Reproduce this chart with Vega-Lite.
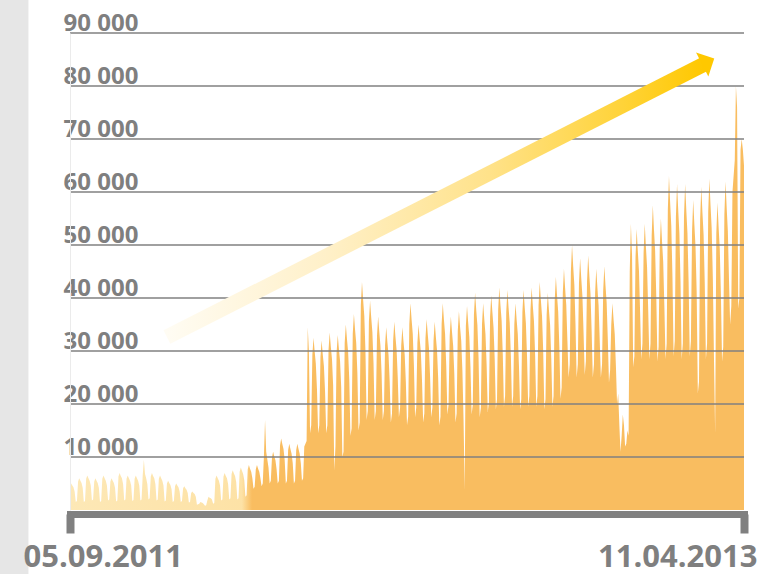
{
"$schema":"https://vega.github.io/schema/vega-lite/v6.json",
"width":674,"height":477,
"autosize":{"type":"none"},
"padding":{"left":70,"top":33,"right":22,"bottom":64},
"background":"white",
"config":{"view":{"stroke":null},"font":"Open Sans"},
"datasets":{
"t":[
{"d":"2011-09-05","v":4500},{"d":"2011-09-06","v":5000},{"d":"2011-09-07","v":4600},{"d":"2011-09-08","v":4300},{"d":"2011-09-09","v":3500},{"d":"2011-09-10","v":1500},{"d":"2011-09-11","v":1700},
{"d":"2011-09-12","v":5400},{"d":"2011-09-13","v":6000},{"d":"2011-09-14","v":5500},{"d":"2011-09-15","v":5100},{"d":"2011-09-16","v":4200},{"d":"2011-09-17","v":1500},{"d":"2011-09-18","v":1700},
{"d":"2011-09-19","v":5900},{"d":"2011-09-20","v":6500},{"d":"2011-09-21","v":6000},{"d":"2011-09-22","v":5500},{"d":"2011-09-23","v":4600},{"d":"2011-09-24","v":1800},{"d":"2011-09-25","v":2000},
{"d":"2011-09-26","v":5400},{"d":"2011-09-27","v":6000},{"d":"2011-09-28","v":5500},{"d":"2011-09-29","v":5100},{"d":"2011-09-30","v":4200},{"d":"2011-10-01","v":1500},{"d":"2011-10-02","v":1700},
{"d":"2011-10-03","v":5900},{"d":"2011-10-04","v":6500},{"d":"2011-10-05","v":6000},{"d":"2011-10-06","v":5500},{"d":"2011-10-07","v":4600},{"d":"2011-10-08","v":1800},{"d":"2011-10-09","v":2000},
{"d":"2011-10-10","v":5400},{"d":"2011-10-11","v":6000},{"d":"2011-10-12","v":5500},{"d":"2011-10-13","v":5100},{"d":"2011-10-14","v":4200},{"d":"2011-10-15","v":1600},{"d":"2011-10-16","v":1800},
{"d":"2011-10-17","v":6300},{"d":"2011-10-18","v":7000},{"d":"2011-10-19","v":6400},{"d":"2011-10-20","v":6000},{"d":"2011-10-21","v":4900},{"d":"2011-10-22","v":1800},{"d":"2011-10-23","v":2000},
{"d":"2011-10-24","v":5900},{"d":"2011-10-25","v":6500},{"d":"2011-10-26","v":6000},{"d":"2011-10-27","v":5500},{"d":"2011-10-28","v":4600},{"d":"2011-10-29","v":1700},{"d":"2011-10-30","v":1900},
{"d":"2011-10-31","v":5900},{"d":"2011-11-01","v":6500},{"d":"2011-11-02","v":6000},{"d":"2011-11-03","v":5500},{"d":"2011-11-04","v":4600},{"d":"2011-11-05","v":1800},{"d":"2011-11-06","v":2000},
{"d":"2011-11-07","v":6500},{"d":"2011-11-08","v":9500},{"d":"2011-11-09","v":6800},{"d":"2011-11-10","v":6000},{"d":"2011-11-11","v":4900},{"d":"2011-11-12","v":2000},{"d":"2011-11-13","v":2200},
{"d":"2011-11-14","v":6300},{"d":"2011-11-15","v":7000},{"d":"2011-11-16","v":6400},{"d":"2011-11-17","v":6000},{"d":"2011-11-18","v":4900},{"d":"2011-11-19","v":1800},{"d":"2011-11-20","v":2000},
{"d":"2011-11-21","v":5900},{"d":"2011-11-22","v":6500},{"d":"2011-11-23","v":6000},{"d":"2011-11-24","v":5500},{"d":"2011-11-25","v":4600},{"d":"2011-11-26","v":1600},{"d":"2011-11-27","v":1800},
{"d":"2011-11-28","v":5000},{"d":"2011-11-29","v":5500},{"d":"2011-11-30","v":5100},{"d":"2011-12-01","v":4700},{"d":"2011-12-02","v":3900},{"d":"2011-12-03","v":1500},{"d":"2011-12-04","v":1700},
{"d":"2011-12-05","v":4500},{"d":"2011-12-06","v":5000},{"d":"2011-12-07","v":4600},{"d":"2011-12-08","v":4300},{"d":"2011-12-09","v":3500},{"d":"2011-12-10","v":1500},{"d":"2011-12-11","v":1700},
{"d":"2011-12-12","v":4100},{"d":"2011-12-13","v":4500},{"d":"2011-12-14","v":4100},{"d":"2011-12-15","v":3800},{"d":"2011-12-16","v":3200},{"d":"2011-12-17","v":1400},{"d":"2011-12-18","v":1500},
{"d":"2011-12-19","v":3200},{"d":"2011-12-20","v":3500},{"d":"2011-12-21","v":3200},{"d":"2011-12-22","v":3000},{"d":"2011-12-23","v":2500},{"d":"2011-12-24","v":1000},{"d":"2011-12-25","v":1100},
{"d":"2011-12-26","v":1200},{"d":"2011-12-27","v":1500},{"d":"2011-12-28","v":1400},{"d":"2011-12-29","v":1300},{"d":"2011-12-30","v":1100},{"d":"2011-12-31","v":800},{"d":"2012-01-01","v":900},
{"d":"2012-01-02","v":1800},{"d":"2012-01-03","v":2500},{"d":"2012-01-04","v":2300},{"d":"2012-01-05","v":2200},{"d":"2012-01-06","v":2000},{"d":"2012-01-07","v":1200},{"d":"2012-01-08","v":1300},
{"d":"2012-01-09","v":5900},{"d":"2012-01-10","v":6500},{"d":"2012-01-11","v":6000},{"d":"2012-01-12","v":5500},{"d":"2012-01-13","v":4600},{"d":"2012-01-14","v":1800},{"d":"2012-01-15","v":2000},
{"d":"2012-01-16","v":6300},{"d":"2012-01-17","v":7000},{"d":"2012-01-18","v":6400},{"d":"2012-01-19","v":6000},{"d":"2012-01-20","v":4900},{"d":"2012-01-21","v":2000},{"d":"2012-01-22","v":2200},
{"d":"2012-01-23","v":6800},{"d":"2012-01-24","v":7500},{"d":"2012-01-25","v":6900},{"d":"2012-01-26","v":6400},{"d":"2012-01-27","v":5300},{"d":"2012-01-28","v":2000},{"d":"2012-01-29","v":2200},
{"d":"2012-01-30","v":7200},{"d":"2012-01-31","v":8000},{"d":"2012-02-01","v":7400},{"d":"2012-02-02","v":6800},{"d":"2012-02-03","v":5600},{"d":"2012-02-04","v":2500},{"d":"2012-02-05","v":2800},
{"d":"2012-02-06","v":7700},{"d":"2012-02-07","v":8500},{"d":"2012-02-08","v":7800},{"d":"2012-02-09","v":7200},{"d":"2012-02-10","v":6000},{"d":"2012-02-11","v":4000},{"d":"2012-02-12","v":4400},
{"d":"2012-02-13","v":7700},{"d":"2012-02-14","v":8500},{"d":"2012-02-15","v":7800},{"d":"2012-02-16","v":7200},{"d":"2012-02-17","v":6000},{"d":"2012-02-18","v":4500},{"d":"2012-02-19","v":5000},
{"d":"2012-02-20","v":10000},{"d":"2012-02-21","v":17000},{"d":"2012-02-22","v":11000},{"d":"2012-02-23","v":9500},{"d":"2012-02-24","v":8000},{"d":"2012-02-25","v":5000},{"d":"2012-02-26","v":5500},
{"d":"2012-02-27","v":9900},{"d":"2012-02-28","v":11000},{"d":"2012-02-29","v":10100},{"d":"2012-03-01","v":9400},{"d":"2012-03-02","v":7700},{"d":"2012-03-03","v":5000},{"d":"2012-03-04","v":5500},
{"d":"2012-03-05","v":12200},{"d":"2012-03-06","v":13500},{"d":"2012-03-07","v":12400},{"d":"2012-03-08","v":11500},{"d":"2012-03-09","v":9500},{"d":"2012-03-10","v":5000},{"d":"2012-03-11","v":5500},
{"d":"2012-03-12","v":11300},{"d":"2012-03-13","v":12500},{"d":"2012-03-14","v":11500},{"d":"2012-03-15","v":10600},{"d":"2012-03-16","v":8800},{"d":"2012-03-17","v":5000},{"d":"2012-03-18","v":5500},
{"d":"2012-03-19","v":11300},{"d":"2012-03-20","v":12500},{"d":"2012-03-21","v":11500},{"d":"2012-03-22","v":10600},{"d":"2012-03-23","v":8800},{"d":"2012-03-24","v":5500},{"d":"2012-03-25","v":6000},
{"d":"2012-03-26","v":12000},{"d":"2012-03-27","v":12500},{"d":"2012-03-28","v":13000},{"d":"2012-03-29","v":34500},{"d":"2012-03-30","v":30000},{"d":"2012-03-31","v":14500},{"d":"2012-04-01","v":16000},
{"d":"2012-04-02","v":29300},{"d":"2012-04-03","v":32500},{"d":"2012-04-04","v":29900},{"d":"2012-04-05","v":27600},{"d":"2012-04-06","v":22800},{"d":"2012-04-07","v":14500},{"d":"2012-04-08","v":16000},
{"d":"2012-04-09","v":28800},{"d":"2012-04-10","v":32000},{"d":"2012-04-11","v":29400},{"d":"2012-04-12","v":27200},{"d":"2012-04-13","v":22400},{"d":"2012-04-14","v":14500},{"d":"2012-04-15","v":16000},
{"d":"2012-04-16","v":30200},{"d":"2012-04-17","v":33500},{"d":"2012-04-18","v":30800},{"d":"2012-04-19","v":28500},{"d":"2012-04-20","v":23500},{"d":"2012-04-21","v":7500},{"d":"2012-04-22","v":12000},
{"d":"2012-04-23","v":29700},{"d":"2012-04-24","v":33000},{"d":"2012-04-25","v":30400},{"d":"2012-04-26","v":28100},{"d":"2012-04-27","v":23100},{"d":"2012-04-28","v":10000},{"d":"2012-04-29","v":11000},
{"d":"2012-04-30","v":31500},{"d":"2012-05-01","v":35000},{"d":"2012-05-02","v":32200},{"d":"2012-05-03","v":29800},{"d":"2012-05-04","v":24500},{"d":"2012-05-05","v":14000},{"d":"2012-05-06","v":15400},
{"d":"2012-05-07","v":33300},{"d":"2012-05-08","v":37000},{"d":"2012-05-09","v":34000},{"d":"2012-05-10","v":31500},{"d":"2012-05-11","v":25900},{"d":"2012-05-12","v":15000},{"d":"2012-05-13","v":16500},
{"d":"2012-05-14","v":38700},{"d":"2012-05-15","v":43000},{"d":"2012-05-16","v":39600},{"d":"2012-05-17","v":36600},{"d":"2012-05-18","v":30100},{"d":"2012-05-19","v":17000},{"d":"2012-05-20","v":18700},
{"d":"2012-05-21","v":35600},{"d":"2012-05-22","v":39500},{"d":"2012-05-23","v":36300},{"d":"2012-05-24","v":33600},{"d":"2012-05-25","v":27700},{"d":"2012-05-26","v":17000},{"d":"2012-05-27","v":18700},
{"d":"2012-05-28","v":32900},{"d":"2012-05-29","v":36500},{"d":"2012-05-30","v":33600},{"d":"2012-05-31","v":31000},{"d":"2012-06-01","v":25600},{"d":"2012-06-02","v":17000},{"d":"2012-06-03","v":18700},
{"d":"2012-06-04","v":31100},{"d":"2012-06-05","v":34500},{"d":"2012-06-06","v":31700},{"d":"2012-06-07","v":29300},{"d":"2012-06-08","v":24200},{"d":"2012-06-09","v":16500},{"d":"2012-06-10","v":18200},
{"d":"2012-06-11","v":32000},{"d":"2012-06-12","v":35500},{"d":"2012-06-13","v":32700},{"d":"2012-06-14","v":30200},{"d":"2012-06-15","v":24900},{"d":"2012-06-16","v":17500},{"d":"2012-06-17","v":19300},
{"d":"2012-06-18","v":31100},{"d":"2012-06-19","v":34500},{"d":"2012-06-20","v":31700},{"d":"2012-06-21","v":29300},{"d":"2012-06-22","v":24200},{"d":"2012-06-23","v":16000},{"d":"2012-06-24","v":17600},
{"d":"2012-06-25","v":35100},{"d":"2012-06-26","v":39000},{"d":"2012-06-27","v":35900},{"d":"2012-06-28","v":33200},{"d":"2012-06-29","v":27300},{"d":"2012-06-30","v":17500},{"d":"2012-07-01","v":19300},
{"d":"2012-07-02","v":31500},{"d":"2012-07-03","v":35000},{"d":"2012-07-04","v":32200},{"d":"2012-07-05","v":29800},{"d":"2012-07-06","v":24500},{"d":"2012-07-07","v":16500},{"d":"2012-07-08","v":18200},
{"d":"2012-07-09","v":32400},{"d":"2012-07-10","v":36000},{"d":"2012-07-11","v":33100},{"d":"2012-07-12","v":30600},{"d":"2012-07-13","v":25200},{"d":"2012-07-14","v":17500},{"d":"2012-07-15","v":19300},
{"d":"2012-07-16","v":32000},{"d":"2012-07-17","v":35500},{"d":"2012-07-18","v":32700},{"d":"2012-07-19","v":30200},{"d":"2012-07-20","v":24900},{"d":"2012-07-21","v":16000},{"d":"2012-07-22","v":17600},
{"d":"2012-07-23","v":35100},{"d":"2012-07-24","v":39000},{"d":"2012-07-25","v":35900},{"d":"2012-07-26","v":33200},{"d":"2012-07-27","v":27300},{"d":"2012-07-28","v":18000},{"d":"2012-07-29","v":19800},
{"d":"2012-07-30","v":32900},{"d":"2012-07-31","v":36500},{"d":"2012-08-01","v":33600},{"d":"2012-08-02","v":31000},{"d":"2012-08-03","v":25600},{"d":"2012-08-04","v":16500},{"d":"2012-08-05","v":18200},
{"d":"2012-08-06","v":33800},{"d":"2012-08-07","v":37500},{"d":"2012-08-08","v":34500},{"d":"2012-08-09","v":31900},{"d":"2012-08-10","v":26300},{"d":"2012-08-11","v":17000},{"d":"2012-08-12","v":3800},
{"d":"2012-08-13","v":34700},{"d":"2012-08-14","v":38500},{"d":"2012-08-15","v":35400},{"d":"2012-08-16","v":32700},{"d":"2012-08-17","v":27000},{"d":"2012-08-18","v":18000},{"d":"2012-08-19","v":19800},
{"d":"2012-08-20","v":36900},{"d":"2012-08-21","v":41000},{"d":"2012-08-22","v":37700},{"d":"2012-08-23","v":34900},{"d":"2012-08-24","v":28700},{"d":"2012-08-25","v":17500},{"d":"2012-08-26","v":19300},
{"d":"2012-08-27","v":35100},{"d":"2012-08-28","v":39000},{"d":"2012-08-29","v":35900},{"d":"2012-08-30","v":33200},{"d":"2012-08-31","v":27300},{"d":"2012-09-01","v":18500},{"d":"2012-09-02","v":20400},
{"d":"2012-09-03","v":36500},{"d":"2012-09-04","v":40500},{"d":"2012-09-05","v":37300},{"d":"2012-09-06","v":34400},{"d":"2012-09-07","v":28400},{"d":"2012-09-08","v":19000},{"d":"2012-09-09","v":20900},
{"d":"2012-09-10","v":37800},{"d":"2012-09-11","v":42000},{"d":"2012-09-12","v":38600},{"d":"2012-09-13","v":35700},{"d":"2012-09-14","v":29400},{"d":"2012-09-15","v":19500},{"d":"2012-09-16","v":21500},
{"d":"2012-09-17","v":37400},{"d":"2012-09-18","v":41500},{"d":"2012-09-19","v":38200},{"d":"2012-09-20","v":35300},{"d":"2012-09-21","v":29100},{"d":"2012-09-22","v":19500},{"d":"2012-09-23","v":21500},
{"d":"2012-09-24","v":35100},{"d":"2012-09-25","v":39000},{"d":"2012-09-26","v":35900},{"d":"2012-09-27","v":33200},{"d":"2012-09-28","v":27300},{"d":"2012-09-29","v":19000},{"d":"2012-09-30","v":20900},
{"d":"2012-10-01","v":37400},{"d":"2012-10-02","v":41500},{"d":"2012-10-03","v":38200},{"d":"2012-10-04","v":35300},{"d":"2012-10-05","v":29100},{"d":"2012-10-06","v":19500},{"d":"2012-10-07","v":21500},
{"d":"2012-10-08","v":37800},{"d":"2012-10-09","v":42000},{"d":"2012-10-10","v":38600},{"d":"2012-10-11","v":35700},{"d":"2012-10-12","v":29400},{"d":"2012-10-13","v":19500},{"d":"2012-10-14","v":21500},
{"d":"2012-10-15","v":38700},{"d":"2012-10-16","v":43000},{"d":"2012-10-17","v":39600},{"d":"2012-10-18","v":36600},{"d":"2012-10-19","v":30100},{"d":"2012-10-20","v":19000},{"d":"2012-10-21","v":20900},
{"d":"2012-10-22","v":36900},{"d":"2012-10-23","v":41000},{"d":"2012-10-24","v":37700},{"d":"2012-10-25","v":34900},{"d":"2012-10-26","v":28700},{"d":"2012-10-27","v":19500},{"d":"2012-10-28","v":21500},
{"d":"2012-10-29","v":39600},{"d":"2012-10-30","v":44000},{"d":"2012-10-31","v":40500},{"d":"2012-11-01","v":37400},{"d":"2012-11-02","v":30800},{"d":"2012-11-03","v":21000},{"d":"2012-11-04","v":23100},
{"d":"2012-11-05","v":41000},{"d":"2012-11-06","v":45500},{"d":"2012-11-07","v":41900},{"d":"2012-11-08","v":38700},{"d":"2012-11-09","v":31900},{"d":"2012-11-10","v":25000},{"d":"2012-11-11","v":27500},
{"d":"2012-11-12","v":45000},{"d":"2012-11-13","v":50000},{"d":"2012-11-14","v":46000},{"d":"2012-11-15","v":42500},{"d":"2012-11-16","v":35000},{"d":"2012-11-17","v":25000},{"d":"2012-11-18","v":27500},
{"d":"2012-11-19","v":42800},{"d":"2012-11-20","v":47500},{"d":"2012-11-21","v":43700},{"d":"2012-11-22","v":40400},{"d":"2012-11-23","v":33300},{"d":"2012-11-24","v":25500},{"d":"2012-11-25","v":28100},
{"d":"2012-11-26","v":43200},{"d":"2012-11-27","v":48000},{"d":"2012-11-28","v":44200},{"d":"2012-11-29","v":40800},{"d":"2012-11-30","v":33600},{"d":"2012-12-01","v":25000},{"d":"2012-12-02","v":27500},
{"d":"2012-12-03","v":41000},{"d":"2012-12-04","v":45500},{"d":"2012-12-05","v":41900},{"d":"2012-12-06","v":38700},{"d":"2012-12-07","v":31900},{"d":"2012-12-08","v":25000},{"d":"2012-12-09","v":27500},
{"d":"2012-12-10","v":41400},{"d":"2012-12-11","v":46000},{"d":"2012-12-12","v":42300},{"d":"2012-12-13","v":39100},{"d":"2012-12-14","v":32200},{"d":"2012-12-15","v":24000},{"d":"2012-12-16","v":26400},
{"d":"2012-12-17","v":35100},{"d":"2012-12-18","v":39000},{"d":"2012-12-19","v":35900},{"d":"2012-12-20","v":33200},{"d":"2012-12-21","v":27300},{"d":"2012-12-22","v":20000},{"d":"2012-12-23","v":22000},
{"d":"2012-12-24","v":16000},{"d":"2012-12-25","v":11000},{"d":"2012-12-26","v":14000},{"d":"2012-12-27","v":18000},{"d":"2012-12-28","v":16000},{"d":"2012-12-29","v":12000},{"d":"2012-12-30","v":12500},
{"d":"2012-12-31","v":15000},{"d":"2013-01-01","v":14000},{"d":"2013-01-02","v":45000},{"d":"2013-01-03","v":54000},{"d":"2013-01-04","v":48000},{"d":"2013-01-05","v":27000},{"d":"2013-01-06","v":29000},
{"d":"2013-01-07","v":47700},{"d":"2013-01-08","v":53000},{"d":"2013-01-09","v":48800},{"d":"2013-01-10","v":45100},{"d":"2013-01-11","v":37100},{"d":"2013-01-12","v":28500},{"d":"2013-01-13","v":31400},
{"d":"2013-01-14","v":48600},{"d":"2013-01-15","v":54000},{"d":"2013-01-16","v":49700},{"d":"2013-01-17","v":45900},{"d":"2013-01-18","v":37800},{"d":"2013-01-19","v":28500},{"d":"2013-01-20","v":31400},
{"d":"2013-01-21","v":51800},{"d":"2013-01-22","v":57500},{"d":"2013-01-23","v":52900},{"d":"2013-01-24","v":48900},{"d":"2013-01-25","v":40300},{"d":"2013-01-26","v":28000},{"d":"2013-01-27","v":30800},
{"d":"2013-01-28","v":49500},{"d":"2013-01-29","v":55000},{"d":"2013-01-30","v":50600},{"d":"2013-01-31","v":46800},{"d":"2013-02-01","v":38500},{"d":"2013-02-02","v":28500},{"d":"2013-02-03","v":31400},
{"d":"2013-02-04","v":56700},{"d":"2013-02-05","v":63000},{"d":"2013-02-06","v":58000},{"d":"2013-02-07","v":53600},{"d":"2013-02-08","v":44100},{"d":"2013-02-09","v":29000},{"d":"2013-02-10","v":31900},
{"d":"2013-02-11","v":55400},{"d":"2013-02-12","v":61500},{"d":"2013-02-13","v":56600},{"d":"2013-02-14","v":52300},{"d":"2013-02-15","v":43100},{"d":"2013-02-16","v":28500},{"d":"2013-02-17","v":31400},
{"d":"2013-02-18","v":55400},{"d":"2013-02-19","v":61500},{"d":"2013-02-20","v":56600},{"d":"2013-02-21","v":52300},{"d":"2013-02-22","v":43100},{"d":"2013-02-23","v":29000},{"d":"2013-02-24","v":31900},
{"d":"2013-02-25","v":52700},{"d":"2013-02-26","v":58500},{"d":"2013-02-27","v":53800},{"d":"2013-02-28","v":49700},{"d":"2013-03-01","v":41000},{"d":"2013-03-02","v":22000},{"d":"2013-03-03","v":24200},
{"d":"2013-03-04","v":54900},{"d":"2013-03-05","v":61000},{"d":"2013-03-06","v":56100},{"d":"2013-03-07","v":51900},{"d":"2013-03-08","v":42700},{"d":"2013-03-09","v":28500},{"d":"2013-03-10","v":31400},
{"d":"2013-03-11","v":56300},{"d":"2013-03-12","v":62500},{"d":"2013-03-13","v":57500},{"d":"2013-03-14","v":53100},{"d":"2013-03-15","v":43800},{"d":"2013-03-16","v":28500},{"d":"2013-03-17","v":14500},
{"d":"2013-03-18","v":52200},{"d":"2013-03-19","v":58000},{"d":"2013-03-20","v":53400},{"d":"2013-03-21","v":49300},{"d":"2013-03-22","v":40600},{"d":"2013-03-23","v":28000},{"d":"2013-03-24","v":30800},
{"d":"2013-03-25","v":55800},{"d":"2013-03-26","v":62000},{"d":"2013-03-27","v":57000},{"d":"2013-03-28","v":52700},{"d":"2013-03-29","v":43400},{"d":"2013-03-30","v":35000},{"d":"2013-03-31","v":38500},
{"d":"2013-04-01","v":60000},{"d":"2013-04-02","v":63000},{"d":"2013-04-03","v":66000},{"d":"2013-04-04","v":80000},{"d":"2013-04-05","v":76000},{"d":"2013-04-06","v":38000},{"d":"2013-04-07","v":40000},
{"d":"2013-04-08","v":68000},{"d":"2013-04-09","v":70000},{"d":"2013-04-10","v":68000},{"d":"2013-04-11","v":65000}
],
"band":[{"d":"2011-06-01","d2":"2011-07-31","v":-20000,"v2":100000}],
"grid":[{"v":10000},{"v":20000},{"v":30000},{"v":40000},{"v":50000},{"v":60000},{"v":70000},{"v":80000},{"v":90000}],
"arrow":[{"d":"2011-11-28","v":32640},{"d":"2013-03-07","v":84060}],
"head":[{"d":"2013-03-11","v":84620}]
},
"layer":[
{"data":{"name":"band"},
 "mark":{"type":"rect","color":"#e6e6e6","clip":false},
 "encoding":{
  "x":{"field":"d","type":"temporal","scale":{"type":"utc","domain":[{"year":2011,"month":9,"date":5,"utc":true},{"year":2013,"month":4,"date":11,"utc":true}]}},
  "x2":{"field":"d2"},
  "y":{"field":"v","type":"quantitative","scale":{"domain":[0,90000],"nice":false}},
  "y2":{"field":"v2"}}},
{"data":{"name":"t"},
 "mark":{"type":"area","interpolate":"linear","clip":false,
   "color":{"gradient":"linear","x1":0,"y1":0,"x2":1,"y2":0,
     "stops":[{"offset":0,"color":"#FDE8B6"},{"offset":0.255,"color":"#FDE2A6"},{"offset":0.27,"color":"#F9BD60"},{"offset":1,"color":"#F9BD60"}]}},
 "encoding":{
  "x":{"field":"d","type":"temporal",
    "scale":{"type":"utc","domain":[{"year":2011,"month":9,"date":5,"utc":true},{"year":2013,"month":4,"date":11,"utc":true}]},
    "axis":{"title":null,"values":[{"year":2011,"month":9,"date":5,"utc":true},{"year":2013,"month":4,"date":11,"utc":true}],
      "format":"%d.%m.%Y","grid":false,"domainColor":"#808080","domainWidth":7,"domainCap":"square","offset":4,
      "tickColor":"#808080","tickWidth":8,"tickSize":19,"ticks":true,
      "labelFont":"Open Sans","labelFontWeight":"bold","labelFontSize":31,"labelColor":"#7f7f7f",
      "labelPadding":33,"labelBaseline":"alphabetic","labelFlush":false,"labelOverlap":false,"labelBound":false,
      "labelAlign":{"condition":{"test":"datum.value < 1340000000000","value":"left"},"value":"right"},
      "labelOffset":{"condition":{"test":"datum.value < 1340000000000","value":-47},"value":13},
      "zindex":2}},
  "y":{"field":"v","type":"quantitative","scale":{"domain":[0,90000],"nice":false},
    "axis":{"title":null,"values":[0,10000,20000,30000,40000,50000,60000,70000,80000,90000],
      "grid":false,"ticks":false,"tickSize":0,
      "domain":true,"domainColor":"#ebebeb","domainWidth":1,
      "labelAlign":"left","labelPadding":7,"labelBaseline":"alphabetic","labelOffset":-3,
      "labelFont":"Open Sans","labelFontWeight":"bold","labelFontSize":24,"labelColor":"#7f7f7f","labelOverlap":false,"labelBound":false,"labelFlush":false,
      "labelExpr":"datum.value == 0 ? '' : replace(format(datum.value, ','), ',', ' ')",
      "zindex":1}}}},
{"data":{"name":"grid"},
 "mark":{"type":"rule","color":"#808080","strokeWidth":1.3},
 "encoding":{"y":{"field":"v","type":"quantitative"}}},
{"data":{"name":"arrow"},
 "mark":{"type":"line","strokeWidth":15,"strokeCap":"butt","clip":false,
   "stroke":{"gradient":"linear","x1":0,"y1":0,"x2":1,"y2":0,
     "stops":[{"offset":0,"color":"#FFFCF3"},{"offset":0.3,"color":"#FFF0C8"},{"offset":0.6,"color":"#FFE28A"},{"offset":0.85,"color":"#FFD338"},{"offset":1,"color":"#FFC800"}]}},
 "encoding":{
  "x":{"field":"d","type":"temporal"},
  "y":{"field":"v","type":"quantitative"}}},
{"data":{"name":"head"},
 "mark":{"type":"point","shape":"M-0.5,-1L0.5,0L-0.5,1Z","size":729,"angle":-27,"filled":true,"color":"#FFC800","opacity":1,"strokeWidth":0,"clip":false},
 "encoding":{
  "x":{"field":"d","type":"temporal"},
  "y":{"field":"v","type":"quantitative"}}}
]
}
